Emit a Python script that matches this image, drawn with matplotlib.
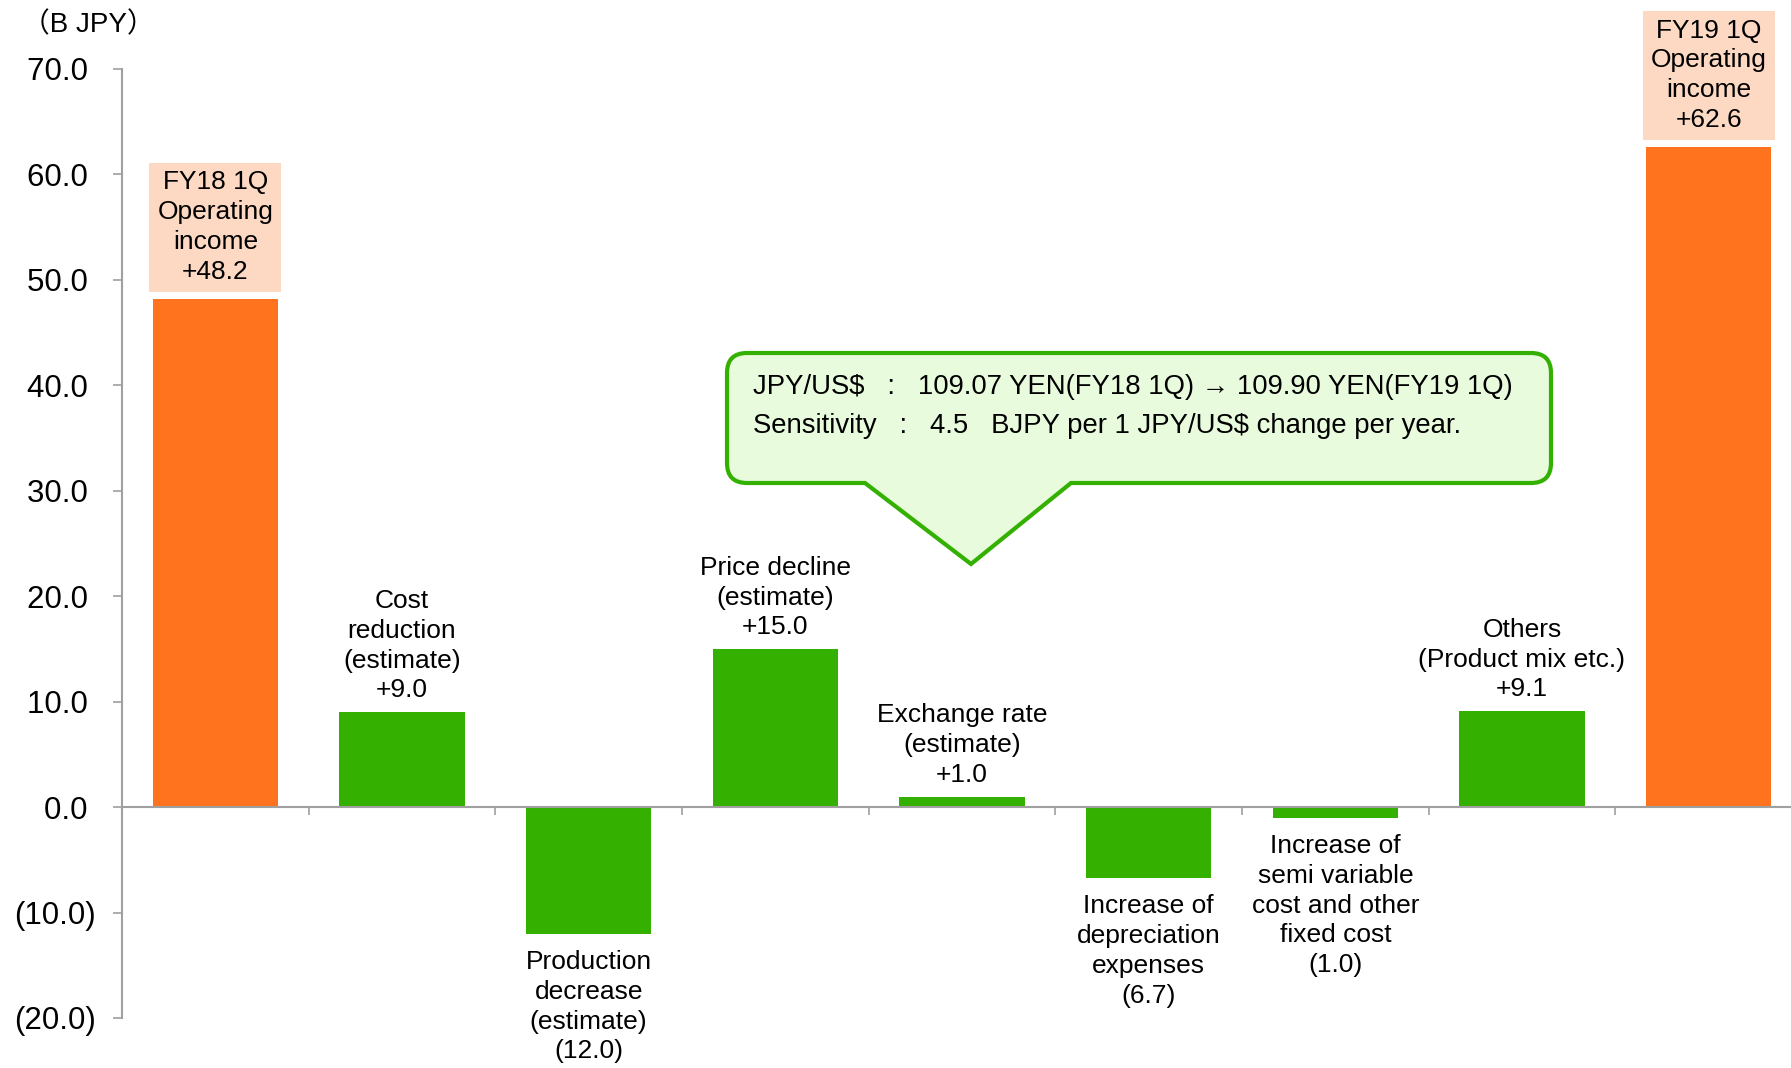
import matplotlib
matplotlib.use("Agg")
import matplotlib.pyplot as plt
from matplotlib.path import Path
from matplotlib.patches import PathPatch
from matplotlib.ticker import FuncFormatter, FixedLocator
from matplotlib.transforms import Affine2D

plt.rcParams["font.family"] = ["Liberation Sans", "DejaVu Sans", "Noto Sans CJK JP"]

# ---- data ----
CATEGORIES = [
    "FY18 1Q\nOperating\nincome",
    "Cost\nreduction\n(estimate)",
    "Production\ndecrease\n(estimate)",
    "Price decline\n(estimate)",
    "Exchange rate\n(estimate)",
    "Increase of\ndepreciation\nexpenses",
    "Increase of\nsemi variable\ncost and other\nfixed cost",
    "Others\n(Product mix etc.)",
    "FY19 1Q\nOperating\nincome",
]
VALUES = [48.2, 9.0, -12.0, 15.0, 1.0, -6.7, -1.0, 9.1, 62.6]
IS_TOTAL = [True, False, False, False, False, False, False, False, True]
Y_TICKS = [-20, -10, 0, 10, 20, 30, 40, 50, 60, 70]
UNIT_LABEL = "（B JPY）"
CALLOUT_LINES = [
    "JPY/US$   :   109.07 YEN(FY18 1Q) → 109.90 YEN(FY19 1Q)",
    "Sensitivity   :   4.5   BJPY per 1 JPY/US$ change per year.",
]

ORANGE = "#FF721E"
GREEN = "#33B000"
PEACH = "#FDD9C4"
CALLOUT_FILL = "#E9FBDD"
AXIS_GRAY = "#A0A0A0"

W, H = 1791, 1068
LABEL_SIZE = 19
LABEL_SPACING = 1.3


def fmt_value(v):
    return f"+{v:.1f}" if v >= 0 else f"({abs(v):.1f})"


def fmt_tick(v, _pos):
    # positives get a trailing space so the digits line up, parentheses hang out
    return f"{v:.1f} " if v >= 0 else f"({abs(v):.1f})"


def callout_path(left, top, right, bottom, base_l, base_r, tip_x, tip_y, r):
    # rounded box with a pointer on the bottom edge, pixel coords (y down)
    verts = [
        (left + r, top), (right - r, top),
        (right, top), (right, top + r),
        (right, bottom - r),
        (right, bottom), (right - r, bottom),
        (base_r, bottom), (tip_x, tip_y), (base_l, bottom),
        (left + r, bottom),
        (left, bottom), (left, bottom - r),
        (left, top + r),
        (left, top), (left + r, top),
        (left + r, top),
    ]
    codes = [
        Path.MOVETO, Path.LINETO,
        Path.CURVE3, Path.CURVE3,
        Path.LINETO,
        Path.CURVE3, Path.CURVE3,
        Path.LINETO, Path.LINETO, Path.LINETO,
        Path.LINETO,
        Path.CURVE3, Path.CURVE3,
        Path.LINETO,
        Path.CURVE3, Path.CURVE3,
        Path.CLOSEPOLY,
    ]
    return Path(verts, codes)


def main():
    fig = plt.figure(figsize=(W / 100, H / 100), dpi=100)
    ax = fig.add_axes([122 / W, 1 - 1018 / H, 1680 / W, 949 / H])

    x = list(range(len(VALUES)))
    colors = [ORANGE if t else GREEN for t in IS_TOTAL]
    ax.bar(x, VALUES, width=0.67, color=colors, zorder=2)

    ax.set_xlim(-0.5, len(VALUES) - 0.5)
    ax.set_ylim(-20, 70)

    for s in ["top", "right"]:
        ax.spines[s].set_visible(False)
    ax.spines["bottom"].set_position(("data", 0))
    for s in ["left", "bottom"]:
        ax.spines[s].set_color(AXIS_GRAY)
        ax.spines[s].set_linewidth(1.5)

    ax.yaxis.set_major_locator(FixedLocator(Y_TICKS))
    ax.yaxis.set_major_formatter(FuncFormatter(fmt_tick))
    ax.tick_params(axis="y", length=6.5, width=1.2, color=AXIS_GRAY, pad=12, labelsize=22.5)
    ax.xaxis.set_major_locator(FixedLocator([i + 0.5 for i in x]))
    ax.tick_params(axis="x", length=5.5, width=1.2, color=AXIS_GRAY, labelbottom=False)

    for xi, v, name, total in zip(x, VALUES, CATEGORIES, IS_TOTAL):
        label = f"{name}\n{fmt_value(v)}"
        if total:
            ax.annotate(label, (xi, v), xytext=(0, 11), textcoords="offset points",
                        ha="center", va="bottom", fontsize=LABEL_SIZE,
                        linespacing=LABEL_SPACING,
                        bbox=dict(boxstyle="square,pad=0.3", fc=PEACH, ec="none"))
        elif v >= 0:
            ax.annotate(label, (xi, v), xytext=(0, 7), textcoords="offset points",
                        ha="center", va="bottom", fontsize=LABEL_SIZE,
                        linespacing=LABEL_SPACING)
        else:
            ax.annotate(label, (xi, v), xytext=(0, -12), textcoords="offset points",
                        ha="center", va="top", fontsize=LABEL_SIZE,
                        linespacing=LABEL_SPACING)

    fig.text(22 / W, 1 - 25 / H, UNIT_LABEL, fontsize=20, va="center", ha="left",
             family=["Liberation Sans", "Noto Sans CJK JP"])

    px = Affine2D().scale(1 / W, -1 / H).translate(0, 1) + fig.transFigure
    path = callout_path(727, 353, 1551, 483, 865, 1071, 971, 564, 20)
    fig.add_artist(PathPatch(path, transform=px, fc=CALLOUT_FILL, ec=GREEN, lw=3, zorder=5))
    for i, line in enumerate(CALLOUT_LINES):
        fig.text(753 / W, 1 - (387 + 39 * i) / H, line, fontsize=19.8, va="center",
                 ha="left", zorder=6)

    fig.savefig("out.png", dpi=100)


if __name__ == "__main__":
    main()
